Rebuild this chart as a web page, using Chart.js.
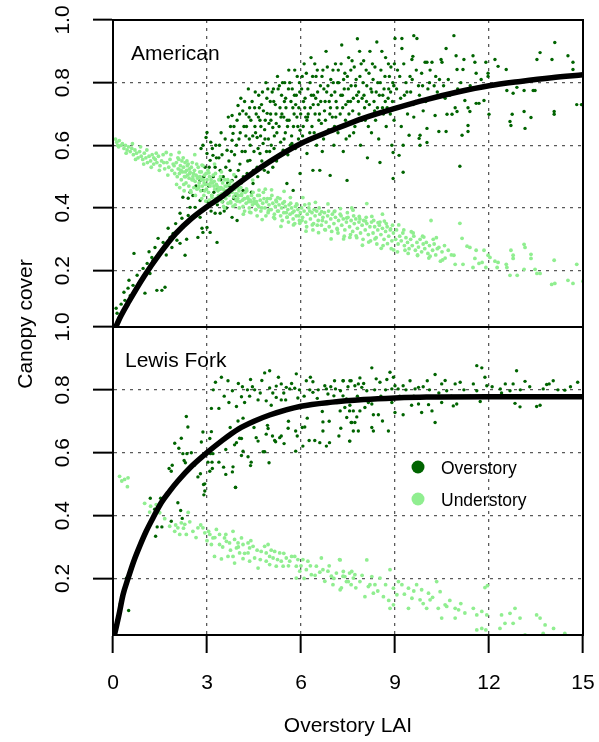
<!DOCTYPE html>
<html>
<head>
<meta charset="utf-8">
<script src="https://cdn.jsdelivr.net/npm/chart.js@4.4.1/dist/chart.umd.min.js"></script>
<style>
  html, body { margin: 0; padding: 0; background: #fff; }
  #wrap { position: relative; width: 599px; height: 742px; }
  #wrap canvas { position: absolute; left: 0; top: 0; }
</style>
</head>
<body>
<div id="wrap">
  <canvas id="panelTop" width="599" height="742"></canvas>
  <canvas id="panelBottom" width="599" height="742"></canvas>
</div>
<script>
// ---- axis ticks ----
const xTicks = [0, 3, 6, 9, 12, 15];
const xTickLabels = ['0', '3', '6', '9', '12', '15'];
const yTicks = [0.2, 0.4, 0.6, 0.8, 1.0];
const yTickLabels = ['0.2', '0.4', '0.6', '0.8', '1.0'];
const seriesNames = ['Overstory', 'Understory'];
const seriesColors = ['#006400', '#90EE90'];
const siteNames = ['American', 'Lewis Fork'];

// ---- American: canopy cover vs overstory LAI, [LAI, cover] ----
const americanOverstory = [
  [0.1,0.08],[0.13,0.064],[0.2,0.05],[0.26,0.093],[0.35,0.131],[0.38,0.105],[0.48,0.144],[0.51,0.169],[0.55,0.12],[0.64,0.153],
  [0.67,0.255],[0.77,0.185],[0.83,0.16],[0.9,0.17],[0.96,0.207],[1.02,0.128],[1.09,0.223],[1.15,0.26],[1.18,0.191],[1.24,0.242],
  [1.28,0.233],[1.34,0.274],[1.4,0.137],[1.44,0.303],[1.56,0.137],[1.6,0.29],[1.66,0.147],[1.7,0.25],[1.76,0.335],[1.82,0.306],
  [1.88,0.274],[1.92,0.319],[2.0,0.35],[2.04,0.297],[2.1,0.33],[2.14,0.287],[2.14,0.383],[2.2,0.367],[2.23,0.338],[2.23,0.434],
  [2.3,0.249],[2.35,0.3],[2.4,0.376],[2.4,0.431],[2.46,0.402],[2.46,0.45],[2.52,0.37],[2.55,0.44],[2.62,0.402],[2.65,0.47],
  [2.71,0.306],[2.78,0.37],[2.78,0.424],[2.78,0.488],[2.81,0.59],[2.84,0.335],[2.87,0.322],[2.87,0.456],[2.87,0.6],[2.9,0.5],
  [2.94,0.53],[2.97,0.625],
  [3.0,0.641],[3.0,0.574],[3.0,0.338],[3.05,0.47],[3.1,0.552],[3.1,0.322],[3.12,0.61],[3.15,0.44],[3.19,0.568],[3.2,0.5],
  [3.26,0.53],[3.26,0.383],[3.28,0.6],[3.32,0.29],[3.35,0.46],[3.38,0.56],[3.42,0.52],[3.42,0.383],[3.45,0.64],[3.5,0.42],
  [3.52,0.5],[3.57,0.456],[3.6,0.53],[3.62,0.4],[3.64,0.584],[3.7,0.55],[3.72,0.47],[3.75,0.66],[3.8,0.616],[3.8,0.695],
  [3.8,0.488],[3.8,0.37],[3.83,0.638],[3.85,0.43],[3.88,0.57],[3.92,0.5],[3.96,0.68],[3.96,0.36],[3.99,0.727],[4.02,0.62],
  [4.05,0.54],[4.08,0.75],[4.1,0.48],[4.15,0.456],[4.18,0.66],[4.22,0.58],[4.25,0.7],[4.28,0.51],[4.32,0.78],[4.35,0.62],
  [4.37,0.552],[4.4,0.68],[4.42,0.45],[4.47,0.478],[4.5,0.58],[4.52,0.72],[4.55,0.64],[4.6,0.53],[4.6,0.625],[4.62,0.5],
  [4.65,0.76],[4.69,0.574],[4.69,0.68],[4.72,0.66],[4.75,0.55],[4.79,0.606],[4.8,0.71],[4.85,0.62],[4.88,0.8],[4.9,0.58],
  [4.92,0.702],[4.95,0.514],[4.98,0.67],[5.02,0.74],[5.05,0.6],[5.1,0.657],[5.1,0.53],[5.12,0.78],[5.15,0.63],[5.2,0.7],
  [5.22,0.55],[5.25,0.82],[5.3,0.66],[5.33,0.72],[5.35,0.61],[5.38,0.76],[5.43,0.584],[5.45,0.69],[5.48,0.8],[5.5,0.64],
  [5.52,0.72],[5.55,0.478],[5.58,0.57],[5.6,0.78],[5.62,0.68],[5.68,0.74],[5.7,0.63],[5.71,0.606],[5.75,0.456],[5.78,0.7],
  [5.8,0.84],[5.82,0.59],[5.85,0.76],[5.9,0.66],[5.93,0.72],[5.95,0.8],[5.97,0.51],[5.97,0.648],
  [3.02,0.42],[3.07,0.53],[3.13,0.39],[3.17,0.59],[3.22,0.45],[3.3,0.56],[3.33,0.41],[3.4,0.6],[3.44,0.49],[3.48,0.57],
  [3.55,0.39],[3.58,0.62],[3.66,0.48],[3.68,0.69],[3.74,0.52],[3.78,0.58],[3.86,0.66],[3.9,0.44],[3.94,0.6],[4.0,0.52],
  [4.04,0.7],[4.12,0.58],[4.16,0.5],[4.2,0.74],[4.24,0.63],[4.3,0.55],[4.34,0.69],[4.38,0.6],[4.44,0.74],[4.48,0.52],
  [4.53,0.66],[4.57,0.7],[4.63,0.59],[4.67,0.72],[4.71,0.63],[4.77,0.77],[4.83,0.52],[4.86,0.68],[4.91,0.75],[4.96,0.62],
  [5.0,0.58],[5.04,0.68],[5.08,0.77],[5.14,0.59],[5.18,0.73],[5.23,0.64],[5.27,0.78],[5.32,0.57],[5.36,0.69],[5.41,0.8],
  [5.46,0.62],[5.51,0.75],[5.56,0.68],[5.61,0.84],[5.66,0.6],[5.72,0.78],[5.76,0.66],[5.83,0.73],[5.88,0.82],[5.92,0.62],
  [5.99,0.7],
  [4.06,0.64],[4.14,0.71],[4.26,0.66],[4.36,0.72],[4.46,0.63],[4.54,0.77],[4.64,0.69],[4.74,0.73],[4.84,0.65],[4.94,0.78],
  [5.03,0.7],[5.13,0.74],[5.21,0.67],[5.31,0.79],[5.39,0.7],[5.47,0.74],[5.57,0.66],[5.64,0.8],[5.74,0.72],[5.79,0.76],
  [5.87,0.69],[5.96,0.77],
  [6.05,0.63],[6.08,0.74],[6.1,0.86],[6.15,0.69],[6.19,0.574],[6.19,0.68],[6.22,0.78],[6.25,0.62],[6.3,0.72],[6.32,0.88],
  [6.35,0.66],[6.38,0.52],[6.4,0.76],[6.45,0.7],[6.48,0.82],[6.5,0.6],[6.55,0.73],[6.6,0.52],[6.62,0.79],[6.65,0.67],
  [6.7,0.84],[6.72,0.62],[6.75,0.71],[6.8,0.9],[6.82,0.77],[6.88,0.65],[6.9,0.74],[6.93,0.504],[6.95,0.81],[7.0,0.69],
  [7.05,0.6],[7.08,0.77],[7.1,0.86],[7.15,0.72],[7.18,0.64],[7.2,0.8],[7.25,0.7],[7.3,0.92],[7.32,0.76],[7.35,0.58],
  [7.4,0.83],[7.42,0.68],[7.47,0.488],[7.5,0.74],[7.52,0.88],[7.55,0.63],[7.6,0.79],[7.65,0.71],[7.7,0.85],[7.72,0.66],
  [7.78,0.76],[7.8,0.94],[7.85,0.7],[7.88,0.82],[7.9,0.6],[7.95,0.75],[8.0,0.87],[8.05,0.68],[8.1,0.79],[8.12,0.56],
  [8.18,0.73],[8.2,0.9],[8.25,0.64],[8.3,0.81],[8.35,0.71],[8.4,0.77],[8.42,0.93],[8.48,0.62],[8.52,0.545],[8.55,0.84],
  [8.6,0.72],[8.65,0.78],[8.7,0.88],[8.72,0.66],[8.78,0.75],[8.82,0.82],[8.85,0.7],[8.9,0.6],[8.94,0.577],[8.94,0.494],
  [8.96,0.79],[8.98,0.86],
  [6.02,0.78],[6.07,0.66],[6.12,0.72],[6.17,0.83],[6.23,0.7],[6.28,0.64],[6.33,0.76],[6.37,0.82],[6.42,0.64],[6.47,0.75],
  [6.52,0.84],[6.57,0.68],[6.63,0.74],[6.68,0.58],[6.73,0.78],[6.78,0.68],[6.84,0.85],[6.92,0.7],[6.97,0.76],[7.02,0.84],
  [7.07,0.66],[7.12,0.74],[7.17,0.8],[7.22,0.66],[7.28,0.86],[7.33,0.72],[7.38,0.78],[7.44,0.62],[7.48,0.82],[7.53,0.7],
  [7.58,0.74],[7.63,0.87],[7.68,0.64],[7.74,0.79],[7.83,0.74],[7.87,0.9],[7.93,0.68],[7.98,0.8],[8.03,0.72],[8.08,0.84],
  [8.15,0.66],[8.23,0.78],[8.28,0.86],[8.33,0.74],[8.38,0.68],[8.45,0.8],[8.5,0.76],[8.58,0.9],[8.63,0.7],[8.68,0.82],
  [8.75,0.72],[8.8,0.78],[8.87,0.85],[8.92,0.74],[8.97,0.68],
  [6.04,0.82],[6.13,0.75],[6.21,0.69],[6.29,0.8],[6.39,0.73],[6.44,0.86],[6.53,0.77],[6.59,0.7],[6.67,0.82],[6.77,0.74],
  [6.86,0.79],[6.94,0.72],[7.03,0.8],[7.11,0.69],[7.19,0.84],[7.27,0.76],[7.36,0.81],[7.43,0.73],[7.51,0.78],[7.59,0.84],
  [7.67,0.75],[7.76,0.81],[7.84,0.77],[7.92,0.86],[8.01,0.76],[8.09,0.74],[8.17,0.83],[8.26,0.77],[8.36,0.85],[8.44,0.72],
  [8.53,0.8],[8.61,0.76],[8.69,0.74],[8.79,0.86],[8.86,0.77],[8.93,0.8],
  [9.0,0.941],[9.05,0.78],[9.1,0.72],[9.13,0.568],[9.15,0.82],[9.2,0.66],[9.22,0.941],[9.22,0.909],[9.26,0.6],[9.26,0.514],
  [9.3,0.76],[9.35,0.8],[9.4,0.7],[9.45,0.632],[9.5,0.77],[9.54,0.874],[9.55,0.81],[9.57,0.884],[9.6,0.95],[9.6,0.69],
  [9.65,0.74],[9.7,0.941],[9.75,0.79],[9.77,0.622],[9.8,0.632],[9.8,0.6],[9.85,0.83],[9.9,0.71],[9.96,0.865],[10.02,0.865],
  [10.02,0.654],[10.02,0.609],[10.05,0.78],[10.1,0.8],[10.18,0.865],[10.2,0.75],[10.28,0.695],[10.3,0.82],[10.35,0.77],[10.4,0.644],
  [10.47,0.874],[10.5,0.865],[10.55,0.79],[10.63,0.909],[10.63,0.644],[10.66,0.699],[10.7,0.81],[10.75,0.76],[10.82,0.699],[10.88,0.95],
  [10.92,0.72],[10.95,0.886],[10.98,0.842],[10.98,0.708],[11.0,0.78],[11.07,0.533],[11.1,0.8],[11.14,0.632],[11.17,0.842],[11.2,0.874],
  [11.23,0.743],[11.33,0.72],[11.33,0.663],[11.33,0.644],[11.39,0.708],[11.4,0.79],[11.49,0.886],[11.55,0.865],[11.59,0.83],[11.59,0.734],
  [11.68,0.734],[11.75,0.81],[11.84,0.743],[11.9,0.865],[11.97,0.83],[11.97,0.82],[12.0,0.699],
  [9.08,0.84],[9.18,0.75],[9.28,0.86],[9.38,0.77],[9.48,0.82],[9.58,0.73],[9.68,0.84],[9.78,0.76],[9.88,0.79],[9.98,0.74],
  [10.12,0.84],[10.25,0.79],[10.42,0.81],[10.6,0.75],
  [12.19,0.874],[12.29,0.852],[12.55,0.842],[12.57,0.775],[12.77,0.766],[12.89,0.785],[13.12,0.775],[12.74,0.699],[12.67,0.676],[12.7,0.663],
  [13.12,0.708],[13.34,0.689],[13.15,0.654],[13.41,0.775],[13.47,0.775],[13.53,0.874],[13.63,0.896],[14.01,0.874],[14.1,0.928],[14.52,0.886],
  [14.68,0.865],[14.68,0.842],[14.08,0.708],[14.08,0.699],[14.8,0.73],[14.95,0.73]
];

const americanUnderstory = [
  [0.08,0.62],[0.12,0.61],[0.15,0.6],[0.2,0.615],[0.25,0.6],[0.3,0.605],[0.35,0.59],[0.4,0.6],[0.45,0.585],[0.5,0.595],
  [0.55,0.58],[0.6,0.59],[0.65,0.57],[0.7,0.585],[0.75,0.575],[0.8,0.56],[0.85,0.58],[0.9,0.565],[0.95,0.555],[1.0,0.575],
  [1.05,0.56],[1.1,0.545],[1.15,0.565],[1.2,0.55],[1.25,0.57],[1.3,0.54],[1.35,0.555],[1.4,0.545],[1.45,0.565],[1.5,0.535],
  [1.55,0.55],[1.6,0.57],[1.65,0.525],[1.7,0.577],[1.72,0.545],[1.78,0.53],[1.82,0.555],[1.88,0.52],[1.92,0.54],[1.97,0.51],
  [0.18,0.595],[0.42,0.575],[0.62,0.605],[0.72,0.555],[0.88,0.595],[1.08,0.585],[1.22,0.53],[1.38,0.575],[1.48,0.52],[1.62,0.545],
  [1.75,0.505],[1.85,0.57],[1.95,0.535],[1.3,0.56],[0.98,0.54],
  [2.02,0.545],[2.05,0.5],[2.08,0.525],[2.1,0.555],[2.12,0.51],[2.15,0.535],[2.18,0.49],[2.2,0.55],[2.22,0.515],[2.25,0.53],
  [2.28,0.5],[2.3,0.545],[2.33,0.48],[2.35,0.52],[2.38,0.505],[2.4,0.54],[2.42,0.47],[2.45,0.51],[2.46,0.514],[2.5,0.53],
  [2.52,0.49],[2.55,0.5],[2.58,0.465],[2.6,0.52],[2.62,0.485],[2.65,0.505],[2.68,0.46],[2.7,0.495],[2.72,0.53],[2.75,0.48],
  [2.78,0.5],[2.8,0.455],[2.82,0.515],[2.85,0.47],[2.88,0.49],[2.9,0.44],[2.92,0.505],[2.95,0.475],[2.98,0.46],[3.0,0.49],
  [3.05,0.45],[3.08,0.5],[3.1,0.47],[3.15,0.44],[3.18,0.48],[3.2,0.505],[3.25,0.46],[3.28,0.43],[3.3,0.475],[3.35,0.455],
  [3.38,0.49],[3.4,0.44],[3.45,0.465],[3.48,0.42],[3.5,0.48],[3.55,0.45],[3.58,0.47],[3.6,0.43],[3.65,0.455],[3.7,0.44],
  [3.72,0.475],[3.75,0.42],[3.8,0.45],[3.85,0.435],[3.88,0.46],[3.9,0.41],[3.95,0.445],[3.98,0.43],
  [2.03,0.475],[2.07,0.56],[2.13,0.465],[2.17,0.52],[2.24,0.56],[2.27,0.455],[2.32,0.5],[2.37,0.535],[2.43,0.495],[2.48,0.455],
  [2.53,0.545],[2.57,0.51],[2.63,0.44],[2.67,0.54],[2.73,0.465],[2.77,0.515],[2.83,0.43],[2.87,0.535],[2.93,0.455],[2.97,0.51],
  [3.03,0.52],[3.07,0.425],[3.13,0.49],[3.17,0.415],[3.23,0.485],[3.27,0.51],[3.33,0.42],[3.37,0.465],[3.43,0.5],[3.47,0.445],
  [3.53,0.405],[3.57,0.49],[3.63,0.47],[3.67,0.415],[3.73,0.45],[3.77,0.485],[3.83,0.405],[3.87,0.475],[3.93,0.425],[3.97,0.465],
  [2.11,0.577],[2.26,0.475],[2.36,0.55],[2.49,0.45],[2.61,0.57],[2.74,0.47],[2.84,0.537],[2.96,0.422],[3.06,0.512],[3.16,0.433],
  [3.24,0.54],[3.36,0.439],[3.46,0.515],[3.56,0.4],[3.66,0.49],[3.76,0.416],[3.86,0.506],[3.96,0.422],
  [2.16,0.52],[2.31,0.515],[2.44,0.525],[2.56,0.49],[2.69,0.5],[2.81,0.49],[2.91,0.48],[3.02,0.475],[3.12,0.48],[3.22,0.47],
  [3.32,0.47],[3.42,0.46],[3.52,0.46],[3.62,0.455],[3.71,0.45],[3.81,0.46],[3.91,0.445],
  [4.02,0.455],[4.05,0.42],[4.1,0.44],[4.15,0.405],[4.18,0.43],[4.22,0.45],[4.25,0.415],[4.3,0.435],[4.35,0.4],[4.38,0.425],
  [4.42,0.44],[4.45,0.41],[4.5,0.43],[4.55,0.395],[4.58,0.42],[4.62,0.44],[4.65,0.405],[4.7,0.425],[4.72,0.39],[4.78,0.415],
  [4.82,0.43],[4.85,0.4],[4.9,0.42],[4.95,0.385],[4.98,0.41],[5.02,0.43],[5.05,0.395],[5.1,0.415],[5.15,0.38],[5.18,0.405],
  [5.22,0.42],[5.25,0.39],[5.3,0.41],[5.35,0.375],[5.38,0.4],[5.42,0.415],[5.45,0.385],[5.5,0.405],[5.55,0.37],[5.58,0.395],
  [5.62,0.41],[5.65,0.38],[5.7,0.4],[5.75,0.365],[5.78,0.39],[5.82,0.405],[5.85,0.375],[5.9,0.395],[5.95,0.36],[5.98,0.385],
  [4.03,0.4],[4.08,0.465],[4.13,0.425],[4.2,0.39],[4.27,0.455],[4.33,0.42],[4.4,0.385],[4.47,0.45],[4.53,0.415],[4.6,0.375],
  [4.67,0.44],[4.75,0.4],[4.8,0.45],[4.88,0.375],[4.93,0.43],[5.0,0.395],[5.07,0.44],[5.13,0.37],[5.2,0.425],[5.28,0.39],
  [5.33,0.43],[5.4,0.36],[5.47,0.42],[5.53,0.385],[5.6,0.355],[5.67,0.415],[5.73,0.385],[5.8,0.35],[5.87,0.41],[5.93,0.375],
  [4.01,0.44],[4.06,0.483],[4.11,0.445],[4.16,0.38],[4.21,0.43],[4.26,0.461],[4.31,0.43],[4.36,0.387],[4.41,0.42],[4.46,0.489],
  [4.51,0.42],[4.56,0.395],[4.61,0.41],[4.66,0.457],[4.76,0.363],[4.86,0.46],[4.96,0.391],[5.06,0.458],[5.16,0.366],[5.26,0.433],
  [5.36,0.341],[5.46,0.453],[5.56,0.371],[5.66,0.433],[5.76,0.346],[5.86,0.413],[5.96,0.351],
  [6.02,0.4],[6.05,0.37],[6.1,0.39],[6.15,0.355],[6.2,0.38],[6.25,0.4],[6.3,0.365],[6.35,0.385],[6.4,0.35],[6.45,0.375],
  [6.5,0.39],[6.55,0.36],[6.6,0.38],[6.65,0.345],[6.7,0.37],[6.75,0.385],[6.8,0.355],[6.85,0.375],[6.9,0.34],[6.95,0.365],
  [7.0,0.38],[7.05,0.35],[7.1,0.37],[7.15,0.335],[7.2,0.36],[7.25,0.38],[7.3,0.345],[7.35,0.365],[7.4,0.33],[7.45,0.355],
  [7.5,0.37],[7.55,0.34],[7.6,0.36],[7.62,0.4],[7.65,0.325],[7.7,0.35],[7.75,0.365],[7.8,0.335],[7.85,0.355],[7.9,0.32],
  [7.95,0.345],[8.0,0.36],[8.05,0.33],[8.1,0.35],[8.1,0.414],[8.15,0.315],[8.2,0.34],[8.25,0.355],[8.3,0.32],[8.35,0.34],
  [8.4,0.305],[8.45,0.33],[8.5,0.345],[8.55,0.315],[8.6,0.335],[8.6,0.38],[8.65,0.3],[8.7,0.325],[8.75,0.34],[8.8,0.31],
  [8.85,0.33],[8.9,0.295],[8.95,0.32],
  [6.03,0.36],[6.12,0.41],[6.18,0.34],[6.28,0.39],[6.38,0.33],[6.42,0.395],[6.52,0.345],[6.58,0.4],[6.68,0.36],[6.78,0.33],
  [6.88,0.39],[6.98,0.325],[7.08,0.39],[7.18,0.32],[7.28,0.375],[7.38,0.31],[7.48,0.385],[7.58,0.315],[7.68,0.375],[7.78,0.305],
  [7.88,0.365],[7.98,0.3],[8.08,0.37],[8.22,0.295],[8.32,0.36],[8.42,0.285],[8.52,0.355],[8.62,0.28],[8.72,0.35],[8.88,0.27],
  [8.92,0.345],
  [6.06,0.433],[6.16,0.326],[6.26,0.413],[6.36,0.346],[6.46,0.418],[6.56,0.321],[6.66,0.388],[6.76,0.331],[6.86,0.413],[6.96,0.301],
  [7.06,0.388],[7.16,0.331],[7.26,0.398],[7.36,0.301],[7.46,0.368],[7.56,0.306],[7.66,0.393],[7.76,0.311],[7.86,0.373],[7.96,0.281],
  [8.06,0.358],[8.16,0.291],[8.26,0.373],[8.36,0.301],[8.46,0.353],[8.56,0.271],[8.66,0.358],[8.76,0.286],[8.86,0.333],[8.96,0.266],
  [9.02,0.3],[9.05,0.33],[9.1,0.285],[9.15,0.31],[9.2,0.295],[9.25,0.32],[9.3,0.28],[9.35,0.305],[9.4,0.29],[9.45,0.27],
  [9.5,0.3],[9.55,0.28],[9.6,0.31],[9.65,0.265],[9.7,0.29],[9.75,0.275],[9.8,0.3],[9.85,0.26],[9.9,0.285],[9.95,0.27],
  [10.0,0.29],[10.05,0.255],[10.1,0.28],[10.15,0.36],[10.2,0.265],[10.25,0.285],[10.3,0.25],[10.35,0.27],[10.4,0.274],[10.5,0.26],
  [9.08,0.26],[9.28,0.33],[9.42,0.255],[9.58,0.32],[9.72,0.25],[9.88,0.31],[10.08,0.24],[10.22,0.3],[10.45,0.23],[10.58,0.28],
  [9.12,0.346],[9.32,0.265],[9.52,0.324],[9.72,0.248],[9.92,0.307],[10.12,0.246],[10.32,0.305],[10.52,0.234],
  [10.6,0.24],[10.7,0.265],[10.8,0.25],[10.88,0.249],[10.92,0.22],[11.07,0.351],[11.14,0.303],[11.17,0.22],[11.3,0.278],[11.39,0.274],
  [11.49,0.21],[11.55,0.239],[11.59,0.265],[11.68,0.223],[11.78,0.226],[11.84,0.265],[11.9,0.21],[11.97,0.249],[12.03,0.242],[12.19,0.23],
  [12.26,0.21],[12.29,0.226],[12.55,0.22],[12.57,0.21],[12.67,0.185],[12.7,0.265],[12.77,0.239],[12.77,0.249],[12.9,0.185],[13.12,0.284],
  [13.12,0.204],[13.15,0.274],[13.34,0.252],[13.34,0.239],[13.47,0.204],[13.53,0.191],[13.63,0.191],[14.0,0.156],[14.08,0.233],[14.1,0.159],
  [14.52,0.169],[14.68,0.159],[14.8,0.22],[15.0,0.166]
];

// ---- Lewis Fork: canopy cover vs overstory LAI, [LAI, cover] ----
const lewisOverstory = [
  [0.23,0.119],[0.43,0.201],[0.5,0.098],[1.19,0.455],[1.33,0.42],[1.36,0.334],[1.41,0.364],[1.52,0.455],[1.56,0.364],[1.79,0.55],
  [1.86,0.382],[1.86,0.541],[1.89,0.56],[1.97,0.63],[2.07,0.441],[2.1,0.614],[2.16,0.416],[2.18,0.646],[2.21,0.391],[2.23,0.597],
  [2.27,0.575],[2.31,0.568],[2.34,0.715],[2.36,0.597],[2.39,0.682],[2.71,0.523],[2.79,0.533],[2.82,0.634],[2.87,0.666],[2.89,0.499],
  [2.9,0.466],[2.93,0.478],[2.93,0.501],[3.03,0.57],[3.09,0.645],[3.09,0.541],[3.11,0.597],[3.14,0.667],[3.14,0.741],[3.16,0.57],
  [3.17,0.55],[3.19,0.597],[3.27,0.824],[3.38,0.57],[3.38,0.741],[3.46,0.84],[3.53,0.554],[3.6,0.531],[3.67,0.829],[3.74,0.68],
  [3.81,0.539],[3.81,0.797],[3.83,0.555],[3.88,0.625],[3.91,0.49],[3.91,0.489],[3.94,0.632],[3.94,0.747],[3.99,0.701],[4.04,0.646],
  [4.1,0.645],[4.1,0.591],[4.1,0.778],[4.13,0.81],[4.15,0.71],[4.15,0.605],[4.29,0.8],[4.31,0.587],[4.36,0.78],[4.39,0.833],
  [4.39,0.559],[4.41,0.57],[4.52,0.8],[4.57,0.648],[4.63,0.637],[4.63,0.768],[4.79,0.603],[4.84,0.603],[4.84,0.854],[4.89,0.659],
  [4.89,0.765],[4.93,0.687],[4.95,0.677],[4.98,0.568],[5.0,0.861],[5.0,0.806],[5.05,0.751],[5.09,0.653],[5.16,0.639],[5.19,0.635],
  [5.21,0.812],[5.21,0.776],[5.32,0.648],[5.37,0.653],[5.37,0.819],[5.37,0.768],[5.46,0.629],[5.51,0.768],[5.53,0.808],[5.59,0.678],
  [5.64,0.803],[5.8,0.805],[5.83,0.669],[5.83,0.605],[5.85,0.851],[5.88,0.653],[5.9,0.774],[6.04,0.68],[6.06,0.621],[6.12,0.682],
  [6.17,0.829],[6.26,0.639],[6.28,0.8],[6.38,0.792],[6.38,0.826],[6.44,0.639],[6.49,0.755],[6.52,0.773],[6.6,0.632],[6.68,0.731],
  [6.7,0.669],[6.7,0.698],[6.76,0.813],[6.81,0.621],[6.81,0.803],[6.86,0.787],[6.91,0.632],[7.05,0.781],[7.07,0.829],[7.1,0.803],
  [7.21,0.653],[7.25,0.733],[7.26,0.797],[7.27,0.678],[7.34,0.829],[7.34,0.781],[7.35,0.829],[7.4,0.744],[7.45,0.771],[7.46,0.712],
  [7.55,0.637],[7.55,0.733],[7.56,0.829],[7.56,0.751],[7.56,0.637],[7.6,0.696],[7.6,0.829],[7.62,0.696],[7.67,0.733],[7.67,0.669],
  [7.72,0.813],[7.72,0.696],[7.78,0.714],[7.83,0.819],[7.83,0.669],[7.88,0.838],[7.88,0.733],[7.94,0.808],[8.04,0.744],[8.1,0.797],
  [8.26,0.87],[8.26,0.755],[8.26,0.68],[8.31,0.721],[8.31,0.669],[8.4,0.835],[8.47,0.721],[8.52,0.824],[8.6,0.701],[8.74,0.833],
  [8.79,0.669],[8.84,0.856],[8.9,0.803],[8.9,0.76],[9.0,0.813],[9.0,0.728],[9.1,0.803],[9.26,0.813],[9.26,0.721],[9.48,0.829],
  [9.53,0.751],[9.64,0.803],[9.75,0.808],[9.75,0.755],[9.85,0.728],[10.03,0.829],[10.07,0.753],[10.18,0.733],[10.28,0.849],[10.28,0.696],
  [10.49,0.819],[10.49,0.76],[10.65,0.797],[10.86,0.749],[10.92,0.819],[10.97,0.755],[11.08,0.824],[11.5,0.819],[11.61,0.877],[11.61,0.797],
  [11.72,0.763],[11.77,0.87],[11.87,0.84],[11.93,0.813],[12.36,0.803],[12.52,0.819],[12.67,0.797],[12.77,0.819],[12.83,0.757],[12.88,0.861],
  [12.99,0.746],[13.15,0.827],[13.52,0.747],[13.63,0.751],[13.73,0.803],[13.84,0.817],[13.92,0.819],[14.05,0.829],[14.42,0.799],[14.83,0.824],
  [3.2,0.8],[3.55,0.78],[3.7,0.76],[4.0,0.82],[4.2,0.76],[4.45,0.81],[4.7,0.79],[4.75,0.83],[5.1,0.79],[5.28,0.84],
  [5.45,0.79],[5.7,0.82],[5.95,0.8],[6.1,0.78],[6.3,0.84],[6.55,0.8],[6.95,0.81],[7.15,0.76],[7.5,0.81],[7.8,0.78],
  [8.0,0.82],[8.15,0.76],[8.35,0.8],[8.55,0.78],[8.7,0.8],[8.95,0.84],[9.15,0.78],[9.35,0.8],[9.6,0.78],[9.9,0.81],
  [10.1,0.8],[10.4,0.79],[10.6,0.83],[10.8,0.78],[11.2,0.8],[11.4,0.78],[11.8,0.78],[12.1,0.81],[12.4,0.79],[13.0,0.8],
  [13.3,0.81],[14.2,0.8],[14.6,0.81],[5.6,0.7],[6.2,0.71],[6.9,0.7],[4.5,0.68],[3.6,0.61],[2.6,0.56],[2.5,0.6]
];

const lewisUnderstory = [
  [0.21,0.525],[0.28,0.51],[0.37,0.515],[0.46,0.492],[0.48,0.52],[1.01,0.439],[1.17,0.411],[1.38,0.435],[1.49,0.409],[1.81,0.366],
  [1.97,0.35],[2.07,0.361],[2.13,0.34],[2.18,0.377],[2.29,0.372],[2.34,0.34],[2.71,0.361],[2.87,0.361],[2.93,0.345],[3.09,0.34],
  [3.14,0.308],[3.19,0.329],[3.24,0.27],[3.3,0.356],[3.4,0.34],[3.4,0.308],[3.46,0.262],[3.56,0.329],[3.62,0.318],[3.67,0.27],
  [3.72,0.313],[3.83,0.35],[3.83,0.27],[3.88,0.324],[3.88,0.249],[3.94,0.297],[3.99,0.313],[4.04,0.281],[4.1,0.329],[4.15,0.308],
  [4.15,0.263],[4.31,0.313],[4.31,0.281],[4.36,0.297],[4.36,0.255],[4.47,0.302],[4.52,0.265],[4.63,0.233],[4.73,0.286],[4.84,0.302],
  [4.89,0.281],[4.89,0.255],[4.95,0.308],[5.0,0.244],[5.0,0.27],[5.11,0.265],[5.16,0.286],[5.21,0.239],[5.32,0.281],[5.37,0.255],
  [5.43,0.239],[5.53,0.265],[5.64,0.255],[5.8,0.27],[5.85,0.239],[5.85,0.201],[5.9,0.26],[5.96,0.223],[6.06,0.26],[6.17,0.228],
  [6.22,0.255],[6.33,0.212],[6.49,0.239],[6.65,0.265],[6.7,0.228],[6.76,0.191],[6.86,0.223],[6.97,0.207],[7.02,0.18],[7.13,0.217],
  [7.23,0.26],[7.25,0.259],[7.25,0.164],[7.29,0.17],[7.34,0.207],[7.35,0.222],[7.4,0.206],[7.51,0.19],[7.55,0.217],[7.6,0.18],
  [7.62,0.222],[7.67,0.201],[7.72,0.212],[7.88,0.19],[8.04,0.142],[8.1,0.259],[8.15,0.174],[8.26,0.206],[8.31,0.153],[8.36,0.18],
  [8.52,0.201],[8.63,0.142],[8.84,0.228],[8.84,0.105],[8.95,0.169],[8.95,0.116],[9.06,0.148],[9.11,0.19],[9.22,0.18],[9.43,0.169],
  [9.43,0.105],[9.54,0.137],[9.69,0.18],[9.8,0.132],[9.85,0.164],[10.01,0.105],[10.07,0.153],[10.12,0.132],[10.33,0.19],[10.38,0.105],
  [10.44,0.158],[10.49,0.074],[10.6,0.116],[10.65,0.111],[10.92,0.105],[10.92,0.074],[11.03,0.1],[11.23,0.09],[11.5,0.105],[11.61,0.084],
  [11.61,0.036],[11.77,0.095],[11.77,0.041],[11.87,0.171],[11.9,0.036],[11.93,0.084],[11.95,0.177],[12.35,0.041],[12.4,0.084],[12.51,0.057],
  [12.67,0.089],[12.77,0.057],[12.83,0.105],[12.99,0.074],[13.15,0.02],[13.52,0.084],[13.63,0.074],[13.73,0.025],[13.79,0.052],[14.06,0.041],
  [14.42,0.025],
  [2.45,0.38],[2.55,0.35],[2.65,0.33],[2.8,0.37],[3.0,0.32],[3.05,0.35],[3.25,0.33],[3.5,0.3],[3.6,0.34],[3.75,0.29],
  [4.0,0.3],[4.2,0.28],[4.4,0.32],[4.6,0.29],[4.7,0.26],[5.05,0.29],[5.25,0.26],[5.45,0.28],[5.6,0.24],[5.7,0.27],
  [6.0,0.24],[6.1,0.2],[6.3,0.24],[6.45,0.21],[6.6,0.22],[6.9,0.24],[7.05,0.2],[7.45,0.19],[7.75,0.17],[7.95,0.21],
  [8.2,0.18],[8.45,0.16],[8.7,0.18],[8.8,0.13],[9.3,0.15],[9.6,0.16],[9.9,0.12],[10.2,0.14],[10.75,0.13],[11.1,0.12],
  [1.2,0.43],[1.65,0.39],[2.0,0.37],[2.25,0.36],[2.4,0.41]
];

// ---- fitted curves ----
const americanFitX = [0, 0.25, 0.5, 1, 1.5, 2, 2.5, 3, 3.5, 4, 5, 6, 7, 8, 9, 10, 11, 12, 13, 14, 15];
const americanFitY = [0.0, 0.055, 0.10, 0.183, 0.255, 0.318, 0.366, 0.404, 0.438, 0.478, 0.548, 0.606, 0.648, 0.687, 0.718, 0.746, 0.770, 0.790, 0.804, 0.816, 0.825];
const lewisFitX = [0, 0.19, 0.32, 0.48, 0.66, 0.85, 1.06, 1.28, 1.54, 1.81, 2.07, 2.5, 3, 3.5, 4, 4.5, 5, 6, 7, 8, 9, 10, 12, 15];
const lewisFitY = [0.0, 0.084, 0.148, 0.2, 0.254, 0.302, 0.35, 0.393, 0.441, 0.478, 0.51, 0.556, 0.60, 0.64, 0.675, 0.70, 0.72, 0.748, 0.761, 0.769, 0.774, 0.777, 0.778, 0.778];

const FONT = '"Liberation Sans", Arial, Helvetica, sans-serif';
const GRID = '#5a5a5a';

function toPoints(pairs) { return pairs.map(p => ({ x: p[0], y: p[1] })); }
function toLine(xs, ys) { return xs.map((x, i) => ({ x: x, y: ys[i] })); }

function decorPlugin(cfg) {
  return {
    id: 'panelDecor',
    afterDraw(chart) {
      const ctx = chart.ctx;
      const a = chart.chartArea;
      const sx = chart.scales.x, sy = chart.scales.y;
      ctx.save();
      // box around the panel
      ctx.strokeStyle = '#000';
      ctx.lineWidth = 2;
      ctx.strokeRect(a.left, a.top, a.right - a.left, a.bottom - a.top);

      ctx.fillStyle = '#000';
      ctx.font = '21px ' + FONT;
      // rotated y tick labels
      yTicks.forEach((v, i) => {
        const y = sy.getPixelForValue(v);
        ctx.save();
        ctx.translate(69, y);
        ctx.rotate(-Math.PI / 2);
        ctx.textAlign = 'center';
        ctx.textBaseline = 'alphabetic';
        ctx.fillText(yTickLabels[i], 0, 0);
        ctx.restore();
      });
      // site name
      ctx.textAlign = 'left';
      ctx.textBaseline = 'alphabetic';
      ctx.fillText(cfg.title, cfg.titleX, a.top + cfg.titleDy);

      if (cfg.bottom) {
        // x tick labels
        ctx.textAlign = 'center';
        xTicks.forEach((v, i) => {
          ctx.fillText(xTickLabels[i], sx.getPixelForValue(v), 689);
        });
        // axis titles
        ctx.fillText('Overstory LAI', (a.left + a.right) / 2, 732);
        ctx.save();
        ctx.translate(32, 324);
        ctx.rotate(-Math.PI / 2);
        ctx.fillText('Canopy cover', 0, 0);
        ctx.restore();
        // legend
        ctx.font = '17.5px ' + FONT;
        ctx.textAlign = 'left';
        const sets = chart.data.datasets.filter(d => d.label);
        sets.sort((p, q) => seriesNames.indexOf(p.label) - seriesNames.indexOf(q.label));
        sets.forEach((d, i) => {
          const cy = 467 + i * 32;
          ctx.beginPath();
          ctx.fillStyle = d.backgroundColor;
          ctx.arc(418, cy, 6.5, 0, Math.PI * 2);
          ctx.fill();
          ctx.fillStyle = '#000';
          ctx.fillText(d.label, 441, cy + 7);
        });
      }
      ctx.restore();
    }
  };
}

function makePanel(canvasId, cfg) {
  const edge = v => v === 0 || v === 15 || v === 1.0;
  return new Chart(document.getElementById(canvasId), {
    type: 'scatter',
    data: {
      datasets: [
        {
          type: 'line',
          data: toLine(cfg.fitX, cfg.fitY),
          borderColor: '#000',
          borderWidth: 5.5,
          pointRadius: 0,
          cubicInterpolationMode: 'monotone',
          fill: false,
          clip: 0,
          order: 0
        },
        {
          label: seriesNames[1],
          data: toPoints(cfg.under),
          backgroundColor: seriesColors[1],
          pointRadius: 1.9,
          pointBorderWidth: 0,
          order: 1
        },
        {
          label: seriesNames[0],
          data: toPoints(cfg.over),
          backgroundColor: seriesColors[0],
          pointRadius: 1.7,
          pointBorderWidth: 0,
          order: 2
        }
      ]
    },
    options: {
      responsive: false,
      animation: false,
      events: [],
      layout: {
        padding: cfg.bottom
          ? { left: 0, right: 16, top: 327, bottom: 0 }
          : { left: 0, right: 16, top: 20, bottom: 415 }
      },
      plugins: { legend: { display: false }, tooltip: { enabled: false } },
      scales: {
        x: {
          type: 'linear',
          min: 0, max: 15,
          afterBuildTicks: s => { s.ticks = xTicks.map(v => ({ value: v })); },
          afterFit: s => { s.height = cfg.bottom ? 107 : 0; },
          ticks: { display: false },
          grid: {
            color: c => (c.tick && edge(c.tick.value)) ? 'rgba(0,0,0,0)' : GRID,
            lineWidth: 1.3,
            drawTicks: cfg.bottom,
            tickLength: 18,
            tickColor: '#000',
            tickWidth: 2
          },
          border: { display: true, color: '#000', width: 2, dash: [3, 5] }
        },
        y: {
          type: 'linear',
          min: 0.02, max: 1.0,
          afterBuildTicks: s => { s.ticks = yTicks.map(v => ({ value: v })); },
          afterFit: s => { s.width = 113; },
          ticks: { display: false },
          grid: {
            color: c => (c.tick && edge(c.tick.value)) ? 'rgba(0,0,0,0)' : GRID,
            lineWidth: 1.3,
            drawTicks: true,
            tickLength: 20,
            tickColor: '#000',
            tickWidth: 2
          },
          border: { display: true, color: '#000', width: 2, dash: [3, 5] }
        }
      }
    },
    plugins: [decorPlugin(cfg)]
  });
}

makePanel('panelTop', {
  bottom: false, title: siteNames[0], titleX: 131, titleDy: 40,
  over: americanOverstory, under: americanUnderstory,
  fitX: americanFitX, fitY: americanFitY
});
makePanel('panelBottom', {
  bottom: true, title: siteNames[1], titleX: 125, titleDy: 40,
  over: lewisOverstory, under: lewisUnderstory,
  fitX: lewisFitX, fitY: lewisFitY
});
</script>
</body>
</html>
